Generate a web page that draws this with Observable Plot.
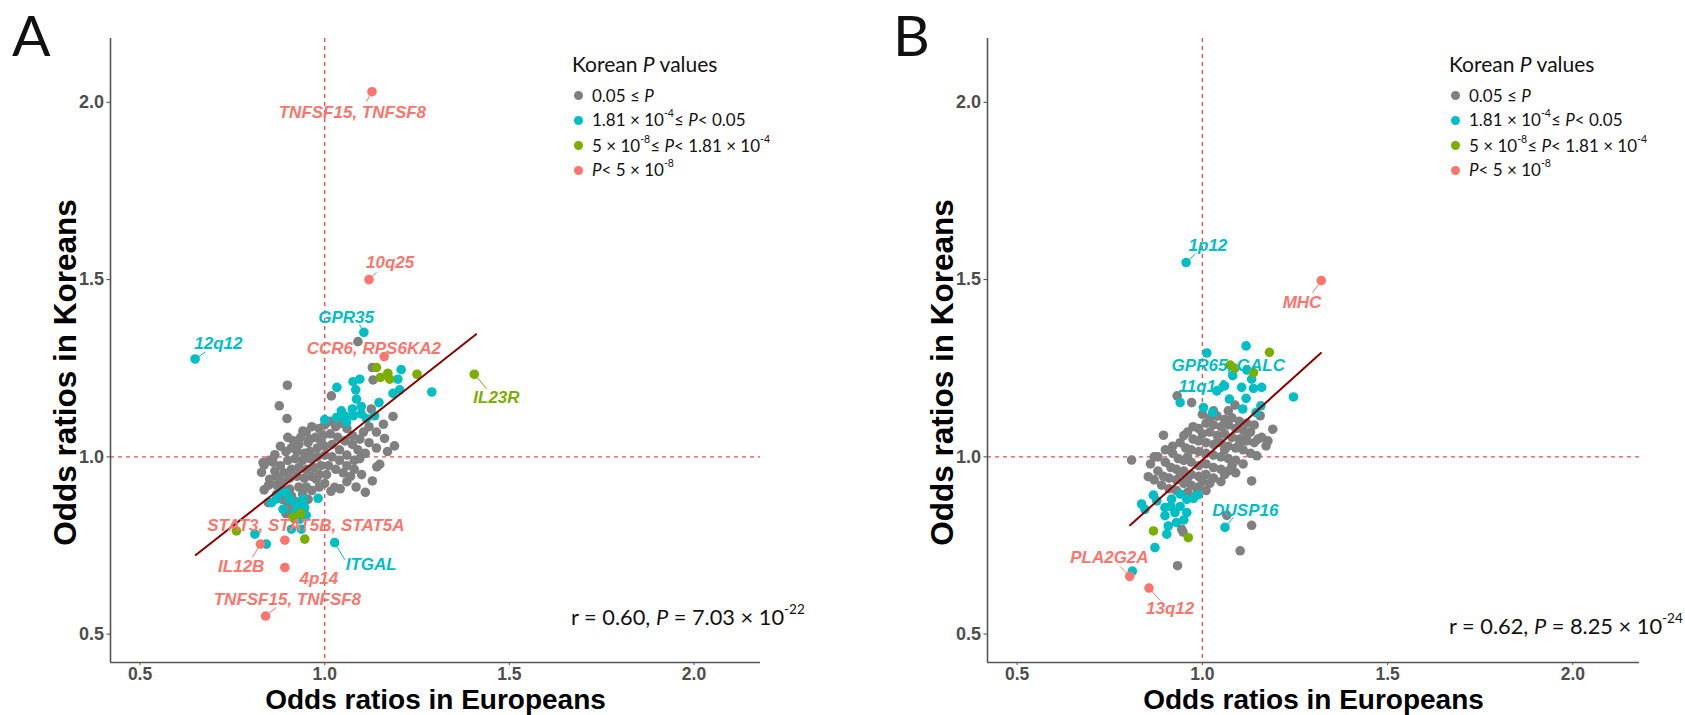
<!DOCTYPE html>
<html><head><meta charset="utf-8">
<script src="https://cdn.jsdelivr.net/npm/d3@7"></script>
<script src="https://cdn.jsdelivr.net/npm/@observablehq/plot@0.6"></script>
<style>
body{margin:0;background:#fff;}
#wrap{position:relative;width:1685px;height:715px;overflow:hidden;font-family:Lato,"Open Sans",sans-serif;color:#111;}
.panel{position:absolute;top:0;width:842px;height:715px;}
.letter{position:absolute;font-size:57px;line-height:1;top:6px;font-weight:400;}
.lgt{position:absolute;font-size:21px;line-height:24px;white-space:nowrap;}
.row{position:absolute;font-size:17px;line-height:20px;white-space:nowrap;}
.dot{position:absolute;width:9px;height:9px;border-radius:50%;}
.rtxt{position:absolute;font-size:21.8px;line-height:26px;white-space:nowrap;}
sup{font-size:0.62em;line-height:0;position:relative;top:-0.2em;vertical-align:super;}
</style>
</head><body>
<div id="wrap"></div>
<script>
// ---------- data ----------
const categories = ["0.05 ≤ P", "1.81e-4 ≤ P < 0.05", "5e-8 ≤ P < 1.81e-4", "P < 5e-8"];
const catColors = ["#808080", "#00BFC4", "#7CAE00", "#F8766D"];
const xTicks = [0.5, 1.0, 1.5, 2.0];
const yTicks = [0.5, 1.0, 1.5, 2.0];
const xTitle = "Odds ratios in Europeans";
const yTitle = "Odds ratios in Koreans";

// Panel A: [OR Europeans, OR Koreans]
const grayA = [
[1.090,1.325],[1.129,1.252],[1.131,1.217],[0.899,1.202],[0.877,1.144],[0.898,1.108],[1.018,1.172],[1.126,1.135],[1.185,1.114],[1.159,1.092],
[1.189,1.031],[1.170,1.015],[1.149,0.979],[1.129,0.932],[1.141,0.972],[1.162,1.052],[1.140,1.070],[1.120,1.085],[1.105,1.070],[1.095,1.050],
[1.120,1.040],[1.140,1.025],[1.110,1.010],[1.090,1.020],[1.075,1.060],[1.060,1.080],[1.045,1.095],[1.030,1.085],[1.015,1.100],[1.000,1.090],
[0.985,1.080],[0.965,1.085],[0.950,1.070],[0.935,1.055],[0.941,1.073],[0.930,1.035],[0.955,1.040],[0.975,1.055],[0.995,1.060],[1.015,1.065],
[1.035,1.055],[1.055,1.045],[1.075,1.035],[1.095,0.995],[1.080,0.990],[1.060,1.005],[1.040,1.020],[1.020,1.035],[1.000,1.030],[0.980,1.025],
[0.960,1.015],[0.945,1.010],[0.925,1.015],[0.910,1.025],[0.895,1.015],[0.915,1.045],[0.900,1.055],[0.880,1.030],[0.865,1.006],[0.850,0.990],
[0.833,0.984],[0.836,0.977],[0.829,0.956],[0.851,0.937],[0.848,0.920],[0.836,0.907],[0.847,0.871],[0.865,0.960],[0.880,0.975],[0.900,0.990],
[0.920,0.995],[0.940,0.990],[0.960,0.995],[0.980,1.000],[1.000,1.005],[1.020,1.000],[1.040,0.990],[1.060,0.975],[1.080,0.965],[1.100,0.950],
[1.070,0.945],[1.050,0.955],[1.030,0.965],[1.010,0.975],[0.990,0.975],[0.970,0.970],[0.950,0.965],[0.930,0.970],[0.910,0.965],[0.890,0.955],
[0.870,0.945],[0.885,0.930],[0.905,0.940],[0.925,0.945],[0.945,0.940],[0.965,0.945],[0.985,0.950],[1.005,0.950],[1.042,0.910],[1.017,0.903],
[1.027,0.914],[0.977,0.937],[0.905,0.909],[0.890,0.905],[0.870,0.895],[0.910,0.890],[0.930,0.915],[0.950,0.915],[0.965,0.905],[0.940,0.895],
[0.920,0.875],[0.900,0.870],[0.885,0.880],[0.935,0.870],[0.955,0.880],[0.910,0.850],[0.925,0.845],[0.895,0.840],[0.940,0.850],[0.918,0.826],
[0.935,0.830],[0.985,0.915],[1.000,0.925],[1.060,0.930],[1.085,0.915],[1.110,0.900],[0.870,0.920],[0.860,0.985],[0.960,1.050],[0.990,1.045]
];
const cyanA = [
[1.106,1.351],[0.649,1.276],[1.207,1.246],[1.198,1.219],[1.077,1.212],[1.095,1.219],[1.033,1.196],[1.084,1.189],[1.185,1.179],[1.203,1.189],
[1.290,1.183],[1.147,1.153],[1.086,1.163],[1.099,1.142],[1.000,1.105],[1.032,1.111],[1.054,1.116],[1.077,1.116],[1.099,1.121],[1.113,1.108],
[1.135,1.116],[1.059,1.097],[1.075,1.135],[1.045,1.130],
[0.856,0.871],[0.878,0.899],[0.887,0.852],[0.905,0.881],[0.923,0.867],[0.941,0.881],[0.919,0.843],[0.946,0.857],[0.982,0.883],[0.910,0.796],
[0.937,0.796],[0.811,0.782],[0.842,0.754],[1.027,0.758],[0.896,0.899],[0.869,0.881],[0.932,0.824],[0.950,0.835]
];
const greenA = [[1.140,1.252],[1.151,1.224],[1.171,1.236],[1.176,1.219],[1.250,1.233],[1.405,1.233],[0.761,0.791],[0.914,0.829],[0.946,0.768],[0.935,0.840]];
const redA = [[1.128,2.030],[1.120,1.500],[1.161,1.283],[0.826,0.754],[0.892,0.765],[0.892,0.688],[0.840,0.551]];
// label: name, category index, point (x,y), label centre (lx,ly), leader end (sx,sy)
const labelsA = [
{name:"TNFSF15, TNFSF8", c:3, x:1.128, y:2.030, lx:1.075, ly:1.972, sx:1.113, sy:2.002},
{name:"10q25", c:3, x:1.120, y:1.500, lx:1.177, ly:1.547, sx:1.141, sy:1.521},
{name:"GPR35", c:1, x:1.106, y:1.351, lx:1.058, ly:1.393, sx:1.094, sy:1.373},
{name:"12q12", c:1, x:0.649, y:1.276, lx:0.712, ly:1.319, sx:0.677, sy:1.296},
{name:"CCR6, RPS6KA2", c:3, x:1.161, y:1.283, lx:1.133, ly:1.306},
{name:"IL23R", c:2, x:1.405, y:1.233, lx:1.465, ly:1.167, sx:1.438, sy:1.193},
{name:"STAT3, STAT5B, STAT5A", c:3, x:0.892, y:0.765, lx:0.949, ly:0.807},
{name:"IL12B", c:3, x:0.826, y:0.754, lx:0.774, ly:0.691, sx:0.804, sy:0.717},
{name:"ITGAL", c:1, x:1.027, y:0.758, lx:1.126, ly:0.695, sx:1.054, sy:0.710},
{name:"4p14", c:3, x:0.892, y:0.688, lx:0.984, ly:0.656},
{name:"TNFSF15, TNFSF8", c:3, x:0.840, y:0.551, lx:0.899, ly:0.597, sx:0.868, sy:0.575}
];
const fitA = [[0.651,0.723],[1.410,1.346]];
const statA = {r:"0.60", p:"7.03", e:"-22"};

// Panel B
const grayB = [
[0.932,1.172],[0.971,1.153],[1.088,1.146],[0.895,1.061],[0.809,0.991],[0.854,0.944],[1.133,0.932],[1.172,1.031],[1.190,1.078],[1.177,1.045],
[1.147,1.003],[1.066,0.835],[1.133,0.807],[1.102,0.735],[0.933,0.693],[0.944,0.796],[1.156,1.116],[0.948,0.788],
[1.000,1.120],[1.020,1.110],[1.040,1.115],[1.060,1.105],[1.080,1.110],[1.100,1.100],[1.120,1.095],[1.140,1.090],[1.010,1.095],[1.030,1.090],
[1.050,1.085],[1.070,1.090],[1.090,1.080],[1.110,1.075],[1.130,1.070],[0.990,1.080],[1.000,1.065],[1.020,1.070],[1.040,1.060],[1.060,1.065],
[1.080,1.055],[1.100,1.050],[1.120,1.045],[1.150,1.050],[0.960,1.070],[0.975,1.050],[0.990,1.045],[1.010,1.040],[1.030,1.035],[1.050,1.040],
[1.070,1.030],[1.090,1.025],[1.110,1.020],[1.130,1.010],[0.940,1.040],[0.955,1.025],[0.970,1.020],[0.990,1.015],[1.010,1.010],[1.030,1.005],
[1.050,1.000],[1.070,0.995],[1.090,0.990],[1.110,0.980],[0.920,1.010],[0.935,0.995],[0.950,0.990],[0.970,0.985],[0.990,0.975],[1.010,0.980],
[1.030,0.970],[1.050,0.965],[1.070,0.960],[1.090,0.955],[0.900,0.985],[0.915,0.970],[0.930,0.965],[0.950,0.960],[0.970,0.950],[0.990,0.945],
[1.010,0.950],[1.030,0.940],[1.050,0.930],[0.880,0.960],[0.895,0.945],[0.910,0.940],[0.930,0.935],[0.950,0.925],[0.970,0.920],[0.990,0.915],
[1.010,0.905],[0.870,0.935],[0.890,0.920],[0.910,0.910],[0.930,0.905],[0.960,0.900],[0.985,0.895],[1.000,0.930],[0.920,1.030],[0.900,1.020],
[0.880,1.000],[0.960,1.000],[1.040,1.040],[1.060,1.020],[1.100,1.035],[1.120,1.060],[1.140,1.040],[1.160,1.055],[1.030,1.130],[1.070,1.130],
[0.860,0.980],[0.870,1.000],[0.960,0.940],[1.020,0.925],[1.060,0.950],[1.080,0.975],[0.940,0.955],[0.950,1.060],[0.975,1.085],[0.985,0.910]
];
const cyanB = [
[0.956,1.548],[1.061,0.801],[0.811,0.678],
[1.118,1.313],[1.012,1.293],[1.133,1.219],[1.082,1.229],[1.106,1.196],[1.138,1.193],[1.160,1.196],[1.039,1.186],[1.118,1.165],[1.073,1.163],
[1.246,1.169],[0.940,1.153],[1.003,1.139],[1.028,1.125],[1.109,1.135],[1.145,1.125],[1.158,1.144],[1.120,1.245],[1.060,1.200],
[0.836,0.867],[0.845,0.852],[0.868,0.892],[0.877,0.876],[0.899,0.857],[0.917,0.881],[0.940,0.895],[0.958,0.880],[0.976,0.883],[0.988,0.893],
[0.899,0.834],[0.926,0.843],[0.958,0.843],[0.908,0.805],[0.930,0.815],[0.904,0.782],[0.872,0.744],[0.940,0.860],[0.950,0.822],[0.915,0.860]
];
const greenB = [[1.181,1.295],[1.075,1.259],[1.088,1.250],[1.138,1.238],[0.868,0.791],[0.962,0.772]];
const redB = [[1.321,1.497],[0.804,0.663],[0.856,0.630],[0.937,2.195]];
const labelsB = [
{name:"1p12", c:1, x:0.956, y:1.548, lx:1.015, ly:1.596, sx:0.981, sy:1.573},
{name:"MHC", c:3, x:1.321, y:1.497, lx:1.269, ly:1.435, sx:1.297, sy:1.463},
{name:"GPR65, GALC", c:1, x:1.082, y:1.229, lx:1.070, ly:1.2575},
{name:"11q14", c:1, x:1.003, y:1.139, lx:0.999, ly:1.199},
{name:"DUSP16", c:1, x:1.061, y:0.801, lx:1.116, ly:0.848, sx:1.084, sy:0.829},
{name:"PLA2G2A", c:3, x:0.804, y:0.663, lx:0.749, ly:0.716, sx:0.778, sy:0.691},
{name:"13q12", c:3, x:0.856, y:0.630, lx:0.913, ly:0.573, sx:0.887, sy:0.594}
];
const fitB = [[0.805,0.807],[1.320,1.293]];
const statB = {r:"0.62", p:"8.25", e:"-24"};

// ---------- drawing ----------
const DOMAIN = [0.42, 2.18];
function toPts(arr, c){ return arr.map(d => ({x:d[0], y:d[1], cat:categories[c]})); }

function makePanel(gray, cyan, green, red, labels, fit, mL, mR){
  const pts = [...toPts(gray,0), ...toPts(cyan,1), ...toPts(green,2), ...toPts(red,3)];
  const labs = labels.map(d => ({...d, cat:categories[d.c]}));
  const fitPts = fit.map(d => ({x:d[0], y:d[1]}));
  return Plot.plot({
    width: 842, height: 715,
    marginLeft: mL, marginRight: mR, marginTop: 38, marginBottom: 53,
    x: {domain: DOMAIN},
    y: {domain: DOMAIN},
    color: {domain: categories, range: catColors},
    style: {fontFamily: "'Liberation Sans', Arial, sans-serif", background: "transparent", overflow: "visible"},
    marks: [
      Plot.ruleX([1], {stroke: "#ef4a4a", strokeWidth: 1.3, strokeDasharray: "4,4"}),
      Plot.ruleY([1], {stroke: "#ef4a4a", strokeWidth: 1.3, strokeDasharray: "4,4"}),
      Plot.axisX({ticks: xTicks, tickFormat: d3.format(".1f"), tickSize: 3, tickPadding: 2.5, fontSize: 17.5, fontWeight: "bold", color: "#4d4d4d", label: null}),
      Plot.axisY({ticks: yTicks, tickFormat: d3.format(".1f"), tickSize: 3.5, tickPadding: 3, fontSize: 18, fontWeight: "bold", color: "#4d4d4d", label: null}),
      Plot.ruleX([DOMAIN[0]], {stroke: "#555", strokeWidth: 1.6}),
      Plot.ruleY([DOMAIN[0]], {stroke: "#555", strokeWidth: 1.6}),
      Plot.dot(pts, {x: "x", y: "y", fill: "cat", r: 4.8, clip: true}),
      Plot.line(fitPts, {x: "x", y: "y", stroke: "#8B0000", strokeWidth: 2}),
      Plot.link(labs.filter(d => d.sx != null), {x1: "x", y1: "y", x2: "sx", y2: "sy", stroke: "cat", strokeWidth: 1}),
      Plot.text(labs, {x: "lx", y: "ly", text: "name", fill: "cat", fontSize: 17, fontWeight: "bold", fontStyle: "italic"}),
      Plot.text([xTitle], {text: d => d, frameAnchor: "bottom", textAnchor: "middle", lineAnchor: "middle", dy: 38, fontSize: 28, fontWeight: "bold", fill: "#000"}),
      Plot.text([yTitle], {text: d => d, frameAnchor: "left", textAnchor: "middle", lineAnchor: "middle", dx: -45, dy: 22, rotate: -90, fontSize: 31.5, fontWeight: "bold", fill: "#000"})
    ]
  });
}

const wrap = document.getElementById("wrap");
function addPanel(left, svg, letter, letterX, legX, legY, stat, statX, statY){
  const p = document.createElement("div");
  p.className = "panel"; p.style.left = left + "px";
  p.appendChild(svg);
  wrap.appendChild(p);
  const L = document.createElement("div");
  L.className = "letter"; L.textContent = letter; L.style.left = letterX + "px";
  wrap.appendChild(L);
  const t = document.createElement("div");
  t.className = "lgt"; t.style.left = legX + "px"; t.style.top = (legY - 12) + "px";
  t.innerHTML = "Korean <i>P</i> values";
  wrap.appendChild(t);
  const rows = [
    "0.05 ≤ <i>P</i>",
    "1.81 × 10<sup>-4</sup>≤ <i>P</i>&lt; 0.05",
    "5 × 10<sup>-8</sup>≤ <i>P</i>&lt; 1.81 × 10<sup>-4</sup>",
    "<i>P</i>&lt; 5 × 10<sup>-8</sup>"
  ];
  const rowY = [32, 56.5, 82, 106.5];
  rows.forEach((h, i) => {
    const d = document.createElement("div");
    d.className = "dot"; d.style.background = catColors[i];
    d.style.left = (legX + 1.5) + "px"; d.style.top = (legY + rowY[i] - 4.5) + "px";
    wrap.appendChild(d);
    const r = document.createElement("div");
    r.className = "row"; r.innerHTML = h;
    r.style.left = (legX + 20) + "px"; r.style.top = (legY + rowY[i] - 10) + "px";
    wrap.appendChild(r);
  });
  const s = document.createElement("div");
  s.className = "rtxt"; s.style.left = statX + "px"; s.style.top = (statY - 13) + "px";
  s.innerHTML = `r = ${stat.r}, <i>P</i> = ${stat.p} × 10<sup>${stat.e}</sup>`;
  wrap.appendChild(s);
}

addPanel(0, makePanel(grayA, cyanA, greenA, redA, labelsA, fitA, 110, 82), "A", 12, 572, 63.6, statA, 571, 617);
addPanel(843, makePanel(grayB, cyanB, greenB, redB, labelsB, fitB, 144, 46), "B", 893, 1449, 63.6, statB, 1449, 626);
</script>
</body></html>
